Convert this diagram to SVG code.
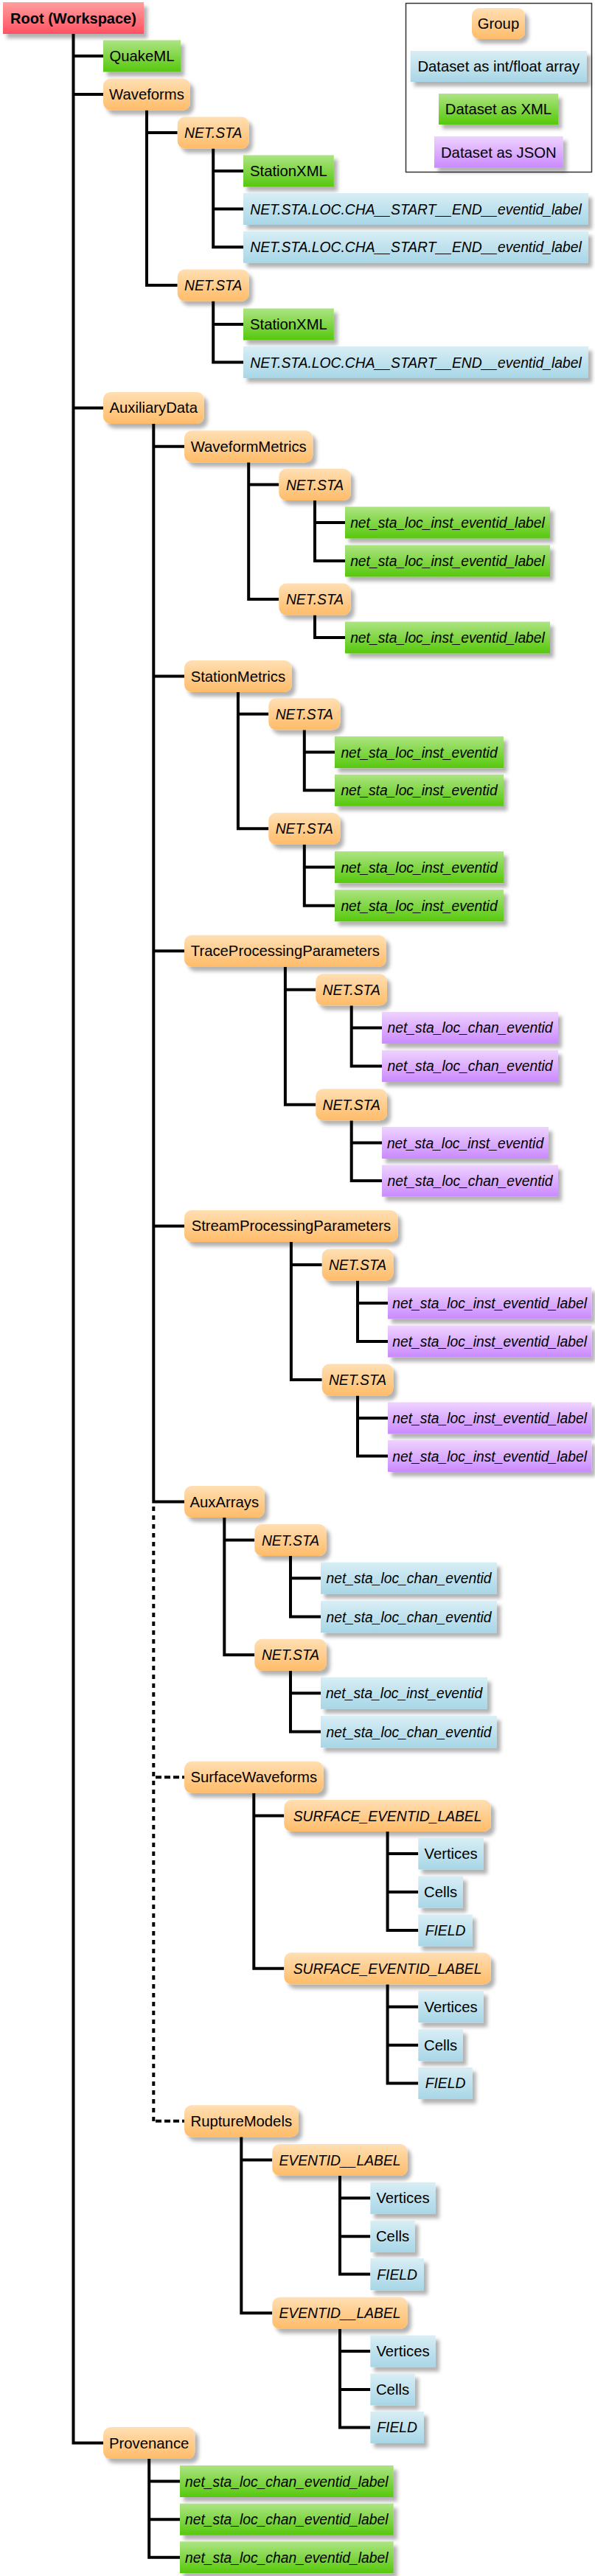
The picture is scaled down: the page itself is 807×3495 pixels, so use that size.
<svg xmlns="http://www.w3.org/2000/svg" width="807" height="3495" viewBox="0 0 807 3495">
<defs>
<linearGradient id="gO" x1="0" y1="0" x2="0" y2="1"><stop offset="0" stop-color="#ffdfb3"/><stop offset="1" stop-color="#ffbc69"/></linearGradient>
<linearGradient id="gB" x1="0" y1="0" x2="0" y2="1"><stop offset="0" stop-color="#d8eef5"/><stop offset="1" stop-color="#a8d6e6"/></linearGradient>
<linearGradient id="gG" x1="0" y1="0" x2="0" y2="1"><stop offset="0" stop-color="#ade482"/><stop offset="1" stop-color="#56c80c"/></linearGradient>
<linearGradient id="gP" x1="0" y1="0" x2="0" y2="1"><stop offset="0" stop-color="#eed2ff"/><stop offset="1" stop-color="#ca8aff"/></linearGradient>
<linearGradient id="gR" x1="0" y1="0" x2="0" y2="1"><stop offset="0" stop-color="#ff9e9e"/><stop offset="1" stop-color="#ff5263"/></linearGradient>
<filter id="sh" x="-10%" y="-20%" width="130%" height="160%"><feDropShadow dx="5" dy="6" stdDeviation="2.5" flood-color="#000" flood-opacity="0.3"/></filter>
</defs>
<style>
rect{filter:url(#sh)}
.grp rect{fill:url(#gO)}
.blue rect{fill:url(#gB)}
.green rect{fill:url(#gG)}
.purple rect{fill:url(#gP)}
.root rect{fill:url(#gR)}
text{font-family:"Liberation Sans",Arial,Helvetica,sans-serif;font-size:20.3px;fill:#000;text-anchor:middle}
.i text{font-style:italic;font-size:19.3px}
.root text{font-weight:bold;font-size:20px}
.con path{fill:none;stroke:#000;stroke-width:4;stroke-linejoin:miter}
.con .dv{stroke-dasharray:6 6}
.con .dh{stroke-dasharray:8 4}
#legend .frame{fill:#fff;stroke:#333;stroke-width:1.5;filter:none}
</style>
<rect width="807" height="3495" fill="#fff" style="filter:none"/>

<g class="con" id="connectors">
<path d="M99.5 46V3314.6H140M99.5 76H140M99.5 128H140M99.5 553.4H140"/>
<path d="M199 149.5V387H240.7M199 180H240.7"/>
<path d="M289.2 201.5V335.3H330M289.2 232H330M289.2 283.5H330"/>
<path d="M289.2 408.5V491.5H330M289.2 440H330"/>
<path d="M208.3 574.9V2037.5H250M208.3 605.8H250M208.3 917.5H250M208.3 1290.3H250M208.3 1663.4H250"/>
<path class="dv" d="M208.3 2044V2880"/>
<path class="dh" d="M211 2411.3H250M211 2877.8H250"/>
<path d="M337.2 627.3V813H378.3M337.2 657.5H378.3"/>
<path d="M427 679V761H468M427 709H468"/>
<path d="M427 834.5V865H468"/>
<path d="M322.9 939V1124.3H364.3M322.9 968.8H364.3"/>
<path d="M412.8 990.3V1072.3H454M412.8 1020.6H454"/>
<path d="M412.8 1145.8V1228.7H454M412.8 1176.6H454"/>
<path d="M386.9 1311.8V1498.8H428.3M386.9 1342.7H428.3"/>
<path d="M476.7 1364.2V1446.4H518M476.7 1394.4H518"/>
<path d="M476.7 1520.3V1602.1H518M476.7 1550.5H518"/>
<path d="M394.9 1684.9V1872H436.7M394.9 1716H436.7"/>
<path d="M485 1737.5V1820H526M485 1768H526"/>
<path d="M485 1893.5V1975.5H526M485 1924H526"/>
<path d="M304.3 2059V2245.3H345.3M304.3 2089.5H345.3"/>
<path d="M394 2111V2193.6H435M394 2141.2H435"/>
<path d="M394 2266.8V2349.6H435M394 2297.2H435"/>
<path d="M344.3 2432.8V2670.7H385.3M344.3 2463.5H385.3"/>
<path d="M525.6 2485V2619H567.3M525.6 2515H567.3M525.6 2567H567.3"/>
<path d="M525.6 2692.2V2826.4H567.3M525.6 2722.7H567.3M525.6 2774.8H567.3"/>
<path d="M327.3 2899.3V3138.2H369.3M327.3 2930.5H369.3"/>
<path d="M461 2952V3085.6H502.3M461 2982.3H502.3M461 3034.2H502.3"/>
<path d="M461 3159.7V3293.4H502.3M461 3190.1H502.3M461 3241.9H502.3"/>
<path d="M202.2 3336.1V3469.7H244M202.2 3366.5H244M202.2 3418.2H244"/>
</g>

<g id="legend">
<rect class="frame" x="550.5" y="4.5" width="252" height="229"/>
<g id="leg-group" class="grp"><rect x="640" y="11" width="72" height="42" rx="10"/><text x="676" y="39">Group</text></g>
<g id="leg-array" class="blue"><rect x="556.7" y="69" width="239.3" height="42"/><text x="676.3" y="97">Dataset as int/float array</text></g>
<g id="leg-xml" class="green"><rect x="595" y="127" width="162" height="42"/><text x="676" y="155">Dataset as XML</text></g>
<g id="leg-json" class="purple"><rect x="589" y="185" width="174.7" height="42.7"/><text x="676.3" y="213.5">Dataset as JSON</text></g>
</g>

<g id="n0" class="root"><rect x="4" y="3" width="191" height="43"/><text x="99.5" y="31.5">Root (Workspace)</text></g>
<g id="n1" class="green"><rect x="140" y="54.5" width="105" height="43"/><text x="192.5" y="83">QuakeML</text></g>
<g id="n2" class="grp"><rect x="140" y="106.5" width="118" height="43" rx="10"/><text x="199" y="135">Waveforms</text></g>
<g id="n3" class="grp i"><rect x="240.7" y="158.5" width="97" height="43" rx="10"/><text x="289.2" y="187">NET.STA</text></g>
<g id="n4" class="green"><rect x="330" y="210.5" width="122.8" height="43"/><text x="391.4" y="239">StationXML</text></g>
<g id="n5" class="blue i"><rect x="330" y="262" width="468" height="43"/><text x="564" y="290.5">NET.STA.LOC.CHA__START__END__eventid_label</text></g>
<g id="n6" class="blue i"><rect x="330" y="313.8" width="468" height="43"/><text x="564" y="342.3">NET.STA.LOC.CHA__START__END__eventid_label</text></g>
<g id="n7" class="grp i"><rect x="240.7" y="365.5" width="97" height="43" rx="10"/><text x="289.2" y="394">NET.STA</text></g>
<g id="n8" class="green"><rect x="330" y="418.5" width="122.8" height="43"/><text x="391.4" y="447">StationXML</text></g>
<g id="n9" class="blue i"><rect x="330" y="470" width="468" height="43"/><text x="564" y="498.5">NET.STA.LOC.CHA__START__END__eventid_label</text></g>
<g id="n10" class="grp"><rect x="140" y="531.9" width="136.7" height="43" rx="10"/><text x="208.3" y="560.4">AuxiliaryData</text></g>
<g id="n11" class="grp"><rect x="250" y="584.3" width="174.3" height="43" rx="10"/><text x="337.2" y="612.8">WaveformMetrics</text></g>
<g id="n12" class="grp i"><rect x="378.3" y="636" width="97.4" height="43" rx="10"/><text x="427" y="664.5">NET.STA</text></g>
<g id="n13" class="green i"><rect x="468" y="687.5" width="278" height="43"/><text x="607" y="716">net_sta_loc_inst_eventid_label</text></g>
<g id="n14" class="green i"><rect x="468" y="739.5" width="278" height="43"/><text x="607" y="768">net_sta_loc_inst_eventid_label</text></g>
<g id="n15" class="grp i"><rect x="378.3" y="791.5" width="97.4" height="43" rx="10"/><text x="427" y="820">NET.STA</text></g>
<g id="n16" class="green i"><rect x="468" y="843.5" width="278" height="43"/><text x="607" y="872">net_sta_loc_inst_eventid_label</text></g>
<g id="n17" class="grp"><rect x="250" y="896" width="145.7" height="43" rx="10"/><text x="322.9" y="924.5">StationMetrics</text></g>
<g id="n18" class="grp i"><rect x="364.3" y="947.3" width="97" height="43" rx="10"/><text x="412.8" y="975.8">NET.STA</text></g>
<g id="n19" class="green i"><rect x="454" y="999.1" width="229" height="43"/><text x="568.5" y="1027.6">net_sta_loc_inst_eventid</text></g>
<g id="n20" class="green i"><rect x="454" y="1050.8" width="229" height="43"/><text x="568.5" y="1079.3">net_sta_loc_inst_eventid</text></g>
<g id="n21" class="grp i"><rect x="364.3" y="1102.8" width="97" height="43" rx="10"/><text x="412.8" y="1131.3">NET.STA</text></g>
<g id="n22" class="green i"><rect x="454" y="1155.1" width="229" height="43"/><text x="568.5" y="1183.6">net_sta_loc_inst_eventid</text></g>
<g id="n23" class="green i"><rect x="454" y="1207.2" width="229" height="43"/><text x="568.5" y="1235.7">net_sta_loc_inst_eventid</text></g>
<g id="n24" class="grp"><rect x="250" y="1268.8" width="273.7" height="43" rx="10"/><text x="386.9" y="1297.3">TraceProcessingParameters</text></g>
<g id="n25" class="grp i"><rect x="428.3" y="1321.2" width="96.7" height="43" rx="10"/><text x="476.7" y="1349.7">NET.STA</text></g>
<g id="n26" class="purple i"><rect x="518" y="1372.9" width="239" height="43"/><text x="637.5" y="1401.4">net_sta_loc_chan_eventid</text></g>
<g id="n27" class="purple i"><rect x="518" y="1424.9" width="239" height="43"/><text x="637.5" y="1453.4">net_sta_loc_chan_eventid</text></g>
<g id="n28" class="grp i"><rect x="428.3" y="1477.3" width="96.7" height="43" rx="10"/><text x="476.7" y="1505.8">NET.STA</text></g>
<g id="n29" class="purple i"><rect x="518" y="1529" width="226" height="43"/><text x="631" y="1557.5">net_sta_loc_inst_eventid</text></g>
<g id="n30" class="purple i"><rect x="518" y="1580.6" width="239" height="43"/><text x="637.5" y="1609.1">net_sta_loc_chan_eventid</text></g>
<g id="n31" class="grp"><rect x="250" y="1641.9" width="289.7" height="43" rx="10"/><text x="394.9" y="1670.4">StreamProcessingParameters</text></g>
<g id="n32" class="grp i"><rect x="436.7" y="1694.5" width="96.6" height="43" rx="10"/><text x="485" y="1723">NET.STA</text></g>
<g id="n33" class="purple i"><rect x="526" y="1746.5" width="276.4" height="43"/><text x="664.2" y="1775">net_sta_loc_inst_eventid_label</text></g>
<g id="n34" class="purple i"><rect x="526" y="1798.5" width="276.4" height="43"/><text x="664.2" y="1827">net_sta_loc_inst_eventid_label</text></g>
<g id="n35" class="grp i"><rect x="436.7" y="1850.5" width="96.6" height="43" rx="10"/><text x="485" y="1879">NET.STA</text></g>
<g id="n36" class="purple i"><rect x="526" y="1902.5" width="276.4" height="43"/><text x="664.2" y="1931">net_sta_loc_inst_eventid_label</text></g>
<g id="n37" class="purple i"><rect x="526" y="1954" width="276.4" height="43"/><text x="664.2" y="1982.5">net_sta_loc_inst_eventid_label</text></g>
<g id="n38" class="grp"><rect x="250" y="2016" width="108.7" height="43" rx="10"/><text x="304.3" y="2044.5">AuxArrays</text></g>
<g id="n39" class="grp i"><rect x="345.3" y="2068" width="97.4" height="43" rx="10"/><text x="394" y="2096.5">NET.STA</text></g>
<g id="n40" class="blue i"><rect x="435" y="2119.7" width="239" height="43"/><text x="554.5" y="2148.2">net_sta_loc_chan_eventid</text></g>
<g id="n41" class="blue i"><rect x="435" y="2172.1" width="239" height="43"/><text x="554.5" y="2200.6">net_sta_loc_chan_eventid</text></g>
<g id="n42" class="grp i"><rect x="345.3" y="2223.8" width="97.4" height="43" rx="10"/><text x="394" y="2252.3">NET.STA</text></g>
<g id="n43" class="blue i"><rect x="435" y="2275.7" width="226" height="43"/><text x="548" y="2304.2">net_sta_loc_inst_eventid</text></g>
<g id="n44" class="blue i"><rect x="435" y="2328.1" width="239" height="43"/><text x="554.5" y="2356.6">net_sta_loc_chan_eventid</text></g>
<g id="n45" class="grp"><rect x="250" y="2389.8" width="188.7" height="43" rx="10"/><text x="344.3" y="2418.3">SurfaceWaveforms</text></g>
<g id="n46" class="grp i"><rect x="385.3" y="2442" width="280.7" height="43" rx="10"/><text x="525.6" y="2470.5">SURFACE_EVENTID_LABEL</text></g>
<g id="n47" class="blue"><rect x="567.3" y="2493.5" width="88.7" height="43"/><text x="611.6" y="2522">Vertices</text></g>
<g id="n48" class="blue"><rect x="567.3" y="2545.5" width="60.7" height="43"/><text x="597.6" y="2574">Cells</text></g>
<g id="n49" class="blue i"><rect x="567.3" y="2597.5" width="73.4" height="43"/><text x="604" y="2626">FIELD</text></g>
<g id="n50" class="grp i"><rect x="385.3" y="2649.2" width="280.7" height="43" rx="10"/><text x="525.6" y="2677.7">SURFACE_EVENTID_LABEL</text></g>
<g id="n51" class="blue"><rect x="567.3" y="2701.2" width="88.7" height="43"/><text x="611.6" y="2729.7">Vertices</text></g>
<g id="n52" class="blue"><rect x="567.3" y="2753.3" width="60.7" height="43"/><text x="597.6" y="2781.8">Cells</text></g>
<g id="n53" class="blue i"><rect x="567.3" y="2804.9" width="73.4" height="43"/><text x="604" y="2833.4">FIELD</text></g>
<g id="n54" class="grp"><rect x="250" y="2856.3" width="154.7" height="43" rx="10"/><text x="327.3" y="2884.8">RuptureModels</text></g>
<g id="n55" class="grp i"><rect x="369.3" y="2909" width="183.4" height="43" rx="10"/><text x="461" y="2937.5">EVENTID__LABEL</text></g>
<g id="n56" class="blue"><rect x="502.3" y="2960.8" width="88.4" height="43"/><text x="546.5" y="2989.3">Vertices</text></g>
<g id="n57" class="blue"><rect x="502.3" y="3012.7" width="60.4" height="43"/><text x="532.5" y="3041.2">Cells</text></g>
<g id="n58" class="blue i"><rect x="502.3" y="3064.1" width="72.7" height="43"/><text x="538.6" y="3092.6">FIELD</text></g>
<g id="n59" class="grp i"><rect x="369.3" y="3116.7" width="183.4" height="43" rx="10"/><text x="461" y="3145.2">EVENTID__LABEL</text></g>
<g id="n60" class="blue"><rect x="502.3" y="3168.6" width="88.4" height="43"/><text x="546.5" y="3197.1">Vertices</text></g>
<g id="n61" class="blue"><rect x="502.3" y="3220.4" width="60.4" height="43"/><text x="532.5" y="3248.9">Cells</text></g>
<g id="n62" class="blue i"><rect x="502.3" y="3271.9" width="72.7" height="43"/><text x="538.6" y="3300.4">FIELD</text></g>
<g id="n63" class="grp"><rect x="140" y="3293.1" width="124.3" height="43" rx="10"/><text x="202.2" y="3321.6">Provenance</text></g>
<g id="n64" class="green i"><rect x="244" y="3345" width="289.7" height="43"/><text x="388.8" y="3373.5">net_sta_loc_chan_eventid_label</text></g>
<g id="n65" class="green i"><rect x="244" y="3396.7" width="289.7" height="43"/><text x="388.8" y="3425.2">net_sta_loc_chan_eventid_label</text></g>
<g id="n66" class="green i"><rect x="244" y="3448.2" width="289.7" height="43"/><text x="388.8" y="3476.7">net_sta_loc_chan_eventid_label</text></g>
</svg>
